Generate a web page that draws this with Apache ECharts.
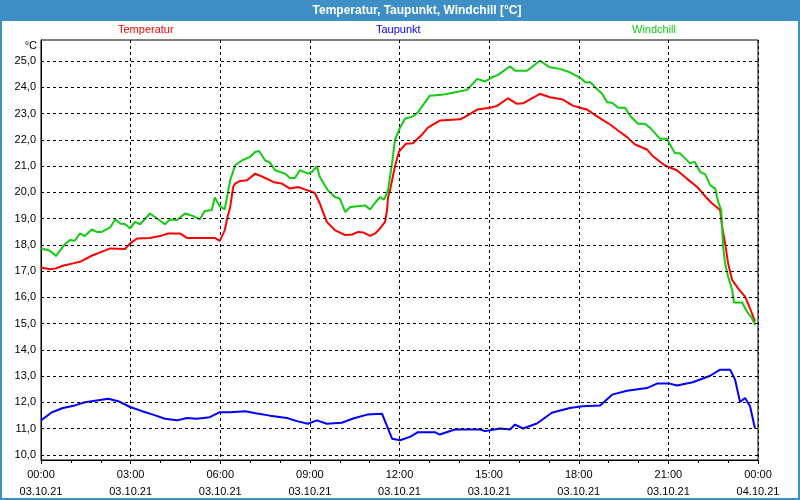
<!DOCTYPE html>
<html>
<head>
<meta charset="utf-8">
<script src="https://cdn.jsdelivr.net/npm/echarts@6/dist/echarts.min.js"></script>
<style>
html,body{margin:0;padding:0;background:#fff;}
#c{width:800px;height:500px;}
</style>
</head>
<body>
<div id="c"></div>
<script>
// minutes since 03.10.21 00:00
const tempTimes = [0,18,30,44,62,78,104,124,139,169,179,193,219,239,255,279,293,319,349,359,369,374,380,386,390,400,414,430,446,470,484,500,516,534,550,560,574,590,611,625,637,647,661,671,681,691,695,697,701,711,719,733,747,767,777,801,842,856,876,902,916,938,956,968,1002,1022,1048,1068,1083,1097,1109,1127,1143,1159,1177,1193,1217,1229,1253,1277,1297,1318,1338,1348,1364,1368,1374,1380,1388,1400,1414,1424,1434];
const tempValues = [17.13,17.07,17.1,17.2,17.28,17.35,17.6,17.75,17.86,17.84,18.05,18.24,18.26,18.33,18.43,18.43,18.26,18.26,18.26,18.15,18.55,19.0,19.44,20.2,20.33,20.43,20.46,20.71,20.58,20.37,20.33,20.14,20.2,20.08,19.97,19.57,18.87,18.56,18.37,18.39,18.49,18.47,18.34,18.43,18.62,18.87,19.32,19.82,20.08,21.0,21.55,21.85,21.87,22.23,22.46,22.73,22.78,22.92,23.15,23.22,23.29,23.58,23.37,23.39,23.75,23.62,23.53,23.3,23.22,23.15,22.99,22.77,22.58,22.35,22.1,21.82,21.63,21.37,21.02,20.84,20.52,20.2,19.76,19.57,19.32,18.68,18.05,17.29,16.66,16.34,16.02,15.58,15.07];

const dewTimes = [0,22,44,68,88,112,135,155,179,203,225,249,273,293,313,339,359,380,410,434,460,494,514,536,554,574,604,627,655,685,695,705,721,741,757,791,801,831,882,892,922,942,952,968,996,1026,1062,1087,1123,1147,1177,1217,1237,1263,1277,1309,1344,1364,1384,1394,1404,1414,1424,1434];
const dewValues = [11.31,11.62,11.78,11.88,12.0,12.07,12.13,12.04,11.82,11.66,11.53,11.37,11.31,11.4,11.37,11.43,11.62,11.62,11.66,11.57,11.49,11.4,11.28,11.18,11.31,11.18,11.22,11.38,11.53,11.56,11.09,10.61,10.55,10.68,10.86,10.86,10.77,10.96,10.96,10.9,11.0,10.96,11.15,11.0,11.19,11.6,11.78,11.85,11.88,12.29,12.44,12.54,12.71,12.71,12.64,12.76,13.01,13.24,13.24,12.86,12.01,12.16,11.85,11.0];

const chillTimes = [0,18,30,48,58,68,78,88,102,112,122,139,149,159,169,179,189,199,219,233,249,259,273,289,305,319,329,343,349,359,369,373,380,390,404,420,430,438,450,460,470,490,500,510,520,536,544,554,560,576,590,600,611,621,641,651,661,671,681,689,697,705,711,721,731,747,757,781,805,827,856,876,892,906,918,942,952,976,1002,1022,1042,1062,1083,1093,1103,1113,1127,1137,1147,1159,1173,1183,1199,1213,1223,1243,1257,1273,1283,1303,1313,1324,1334,1344,1354,1360,1366,1368,1370,1374,1380,1388,1392,1408,1418,1428,1434];
const chillValues = [17.86,17.77,17.57,18.02,18.18,18.15,18.43,18.33,18.58,18.49,18.49,18.66,18.97,18.81,18.78,18.62,18.87,18.78,19.19,19.0,18.78,18.96,18.94,19.19,19.1,18.97,19.29,19.32,19.8,19.47,19.35,19.38,20.46,21.03,21.22,21.35,21.53,21.57,21.22,21.13,20.84,20.71,20.54,20.54,20.84,20.71,20.77,20.99,20.58,20.08,19.82,19.76,19.25,19.44,19.48,19.5,19.34,19.6,19.82,19.72,20.08,21.1,22.0,22.46,22.8,22.89,23.05,23.68,23.71,23.79,23.9,24.32,24.22,24.38,24.47,24.8,24.63,24.63,25.01,24.76,24.7,24.57,24.36,24.19,24.19,24.0,23.75,23.43,23.41,23.22,23.22,22.92,22.61,22.61,22.46,22.04,22.04,21.49,21.49,21.11,21.15,20.77,20.68,20.27,20.14,19.63,19.32,18.68,17.92,17.29,16.78,16.28,15.8,15.8,15.45,15.2,14.95];

const yTickValues = [10,11,12,13,14,15,16,17,18,19,20,21,22,23,24,25];
const xDates = ['03.10.21','04.10.21'];
const seriesNames = ['Temperatur','Taupunkt','Windchill'];
const titleText = 'Temperatur, Taupunkt, Windchill [°C]';
const unitText = '°C';

const zip = (t, v) => t.map((x, i) => [x, v[i]]);
const pad = n => (n < 10 ? '0' : '') + n;
const FONT = 'Liberation Sans';
const colors = ['#ff0000', '#0000ff', '#11cc11'];

const chart = echarts.init(document.getElementById('c'), null, {renderer: 'canvas'});

const legendLefts = [113, 371, 627];
const legends = seriesNames.map((n, i) => ({
  data: [n], left: legendLefts[i], top: 24, padding: 0, itemWidth: 0, itemHeight: 0, icon: 'none',
  selectedMode: false,
  textStyle: {color: colors[i], fontFamily: FONT, fontSize: 11, padding: 0}
}));

chart.setOption({
  animation: false,
  backgroundColor: '#ffffff',
  textStyle: {fontFamily: FONT},
  legend: legends,
  grid: {left: 41, right: 42, top: 40, bottom: 39, show: true, borderColor: '#000', borderWidth: 1, backgroundColor: 'transparent', containLabel: false},
  graphic: [
    {type: 'rect', shape: {x: 0, y: 0, width: 800, height: 21}, style: {fill: '#3d8fc5'}, z: 0},
    {type: 'rect', shape: {x: 1, y: 1, width: 798, height: 498}, style: {fill: 'none', stroke: '#3d8fc5', lineWidth: 2}, z: 0},
    {type: 'text', x: 417, y: 11, style: {text: titleText, fill: '#fff', font: 'bold 12px "Liberation Sans"', textAlign: 'center', textVerticalAlign: 'middle'}, z: 10},
    {type: 'text', x: 37, y: 46, style: {text: unitText, fill: '#000', font: '11px "Liberation Sans"', textAlign: 'right', textVerticalAlign: 'middle'}, z: 10}
  ],
  xAxis: {
    type: 'value', min: 0, max: 1440, interval: 180,
    axisLine: {show: true, lineStyle: {color: '#000', width: 1}},
    axisTick: {show: true, inside: false, length: 4, lineStyle: {color: '#000'}},
    minorTick: {show: true, splitNumber: 3, length: 3, lineStyle: {color: '#000'}},
    splitLine: {show: true, lineStyle: {color: '#000', type: [3, 3], width: 1}},
    axisLabel: {
      color: '#000', fontSize: 11, fontFamily: FONT, margin: 6, lineHeight: 17,
      showMinLabel: true, showMaxLabel: true,
      formatter: v => {
        const h = Math.floor(v / 60) % 24;
        const d = v >= 1440 ? xDates[1] : xDates[0];
        return pad(h) + ':00\n' + d;
      }
    }
  },
  yAxis: {
    type: 'value', min: 9.8, max: 25.8,
    axisLine: {show: true, lineStyle: {color: '#000', width: 1}},
    axisTick: {show: false},
    splitLine: {show: false},
    axisLabel: {
      color: '#000', fontSize: 11, fontFamily: FONT, margin: 5,
      customValues: yTickValues,
      formatter: v => v.toFixed(1).replace('.', ',')
    }
  },
  series: [
    {
      name: '_grid', type: 'line', data: [], silent: true, z: 1,
      markLine: {
        silent: true, symbol: 'none', animation: false,
        label: {show: false},
        lineStyle: {color: '#000', type: [3, 3], width: 1},
        emphasis: {disabled: true},
        data: yTickValues.map(v => ({yAxis: v}))
      }
    },
    {name: seriesNames[0], type: 'line', data: zip(tempTimes, tempValues), showSymbol: false, z: 3,
      lineStyle: {color: colors[0], width: 2}, itemStyle: {color: colors[0]}},
    {name: seriesNames[1], type: 'line', data: zip(dewTimes, dewValues), showSymbol: false, z: 3,
      lineStyle: {color: colors[1], width: 2}, itemStyle: {color: colors[1]}},
    {name: seriesNames[2], type: 'line', data: zip(chillTimes, chillValues), showSymbol: false, z: 3,
      lineStyle: {color: colors[2], width: 2}, itemStyle: {color: colors[2]}}
  ]
});
</script>
</body>
</html>
